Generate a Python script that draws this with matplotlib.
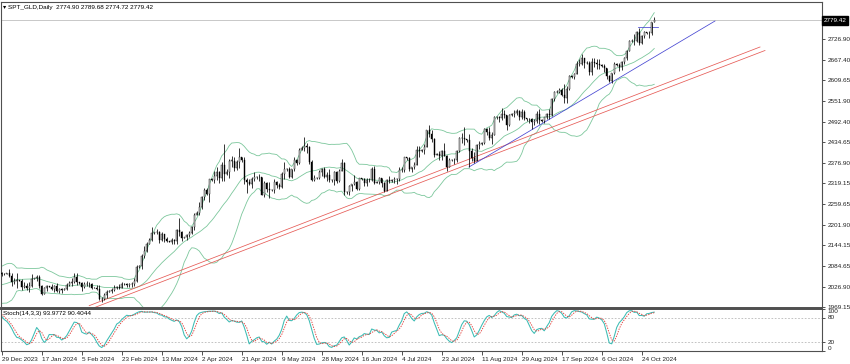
#!/usr/bin/env python3
"""
Daily gold chart (SPT_GLD) in MetaTrader style:
candles + Bollinger bands + trendlines, with a Stochastic(14,3,3) panel below
"""

import numpy as np
import matplotlib
matplotlib.use('Agg')
import matplotlib.pyplot as plt
from matplotlib.transforms import blended_transform_factory

# ---- data --------------------------------------------------------------
# 25 bars before 29 Dec 2023 only feed the indicators (they sit left of the window)
n_before = 25
first_open = 2041

closes = [
    2044, 2036, 2072, 2074, 2029, 2019, 2025, 2028, 2004,
    2003, 1982, 1979, 2027, 2035, 2019,
    2020, 2027, 2040, 2031, 2045, 2053,
    2053, 2067, 2077, 2065,
    # 29 Dec 2023 ->
    2062,
    2063, 2064, 2058, 2041, 2043, 2045,
    2044, 2027, 2030, 2024, 2029, 2049,
    2050, 2055, 2028, 2006, 2023, 2029,
    2027, 2021, 2029, 2014, 2020, 2018,
    2021, 2032, 2037, 2039, 2054, 2039,
    2037, 2025, 2035, 2034, 2034, 2024,
    2023, 2020, 1992, 1992, 2004, 2013,
    2015, 2017, 2024, 2025, 2024, 2035,
    2033, 2031, 2033, 2034, 2044, 2083,
    2085, 2114, 2128, 2148, 2159, 2179,
    2180, 2182, 2158, 2175, 2162, 2155,
    2154, 2160, 2157, 2186, 2181, 2165,
    2166, 2172, 2179, 2195, 2230,
    2234, 2251, 2280, 2300, 2290, 2330,
    2328, 2339, 2352, 2333, 2372, 2344,
    2352, 2383, 2383, 2361, 2379, 2392,
    2384, 2327, 2322, 2316, 2332, 2337,
    2336, 2336, 2286, 2320, 2303, 2301,
    2299, 2324, 2314, 2309, 2346, 2360,
    2358, 2336, 2358, 2386, 2376, 2414,
    2420, 2425, 2421, 2379, 2329, 2334,
    2333, 2351, 2360, 2338, 2343, 2327,
    2328, 2350, 2326, 2355, 2376, 2294,
    2295, 2311, 2316, 2324, 2303, 2333,
    2331, 2319, 2329, 2328, 2360, 2321,
    2322, 2334, 2319, 2298, 2327, 2326,
    2327, 2332, 2330, 2356, 2356, 2392,
    2390, 2359, 2364, 2372, 2414, 2411,
    2412, 2422, 2469, 2458, 2445, 2400,
    2402, 2396, 2409, 2397, 2364, 2386,
    2384, 2384, 2411, 2448, 2446, 2443,
    2440, 2410, 2390, 2382, 2428, 2431,
    2433, 2472, 2465, 2447, 2456, 2507,
    2506, 2504, 2514, 2512, 2485, 2512,
    2514, 2518, 2524, 2505, 2520, 2503,
    2500, 2500, 2493, 2495, 2516, 2497,
    2496, 2506, 2516, 2512, 2558, 2578,
    2577, 2582, 2569, 2559, 2586, 2622,
    2620, 2628, 2657, 2657, 2672, 2658,
    2660, 2634, 2663, 2659, 2656, 2653,
    2651, 2644, 2622, 2608, 2630, 2657,
    2654, 2649, 2662, 2674, 2693, 2721,
    2722, 2720, 2748, 2715, 2736, 2747,
    2745, 2743, 2774, 2779.42,
]

highs = [
    2052, 2049, 2075, 2090, 2135, 2037, 2040, 2034, 2036,
    2006, 2008, 1994, 2032, 2048, 2043,
    2023, 2029, 2047, 2047, 2048, 2071,
    2055, 2070, 2084, 2088,
    2068,
    2064, 2066, 2078, 2065, 2050, 2064,
    2046, 2048, 2040, 2036, 2040, 2062,
    2052, 2061, 2059, 2031, 2026, 2032,
    2030, 2033, 2031, 2038, 2023, 2023,
    2024, 2036, 2043, 2052, 2065, 2065,
    2040, 2040, 2039, 2043, 2041, 2036,
    2026, 2032, 2031, 1998, 2008, 2016,
    2016, 2022, 2031, 2030, 2035, 2041,
    2036, 2038, 2038, 2040, 2050, 2088,
    2087, 2120, 2141, 2153, 2165, 2195,
    2182, 2189, 2184, 2180, 2175, 2168,
    2157, 2164, 2162, 2189, 2222, 2185,
    2168, 2177, 2185, 2197, 2236,
    2240, 2266, 2283, 2305, 2305, 2331,
    2334, 2354, 2365, 2354, 2378, 2431,
    2360, 2387, 2396, 2392, 2385, 2418,
    2394, 2393, 2335, 2330, 2338, 2352,
    2340, 2346, 2335, 2326, 2323, 2323,
    2303, 2331, 2326, 2320, 2352, 2378,
    2362, 2366, 2360, 2393, 2387, 2418,
    2425, 2450, 2432, 2425, 2385, 2341,
    2336, 2356, 2362, 2364, 2351, 2360,
    2331, 2354, 2353, 2359, 2387, 2380,
    2298, 2315, 2318, 2342, 2326, 2335,
    2334, 2333, 2333, 2333, 2365, 2368,
    2325, 2336, 2335, 2323, 2330, 2340,
    2330, 2338, 2335, 2365, 2364, 2393,
    2393, 2392, 2366, 2378, 2424, 2424,
    2416, 2429, 2470, 2483, 2470, 2446,
    2406, 2411, 2412, 2432, 2400, 2390,
    2388, 2391, 2414, 2451, 2462, 2477,
    2444, 2459, 2420, 2408, 2431, 2439,
    2436, 2475, 2475, 2479, 2464, 2509,
    2510, 2510, 2531, 2525, 2513, 2516,
    2517, 2527, 2528, 2526, 2530, 2525,
    2504, 2503, 2504, 2501, 2523, 2529,
    2500, 2507, 2518, 2529, 2560, 2580,
    2582, 2589, 2588, 2600, 2594, 2625,
    2624, 2632, 2664, 2670, 2685, 2673,
    2664, 2666, 2673, 2672, 2669, 2671,
    2656, 2657, 2646, 2624, 2632, 2661,
    2659, 2660, 2666, 2677, 2697, 2723,
    2726, 2741, 2749, 2758, 2738, 2749,
    2748, 2749, 2775, 2789.68,
]

lows = [
    2036, 2030, 2031, 2070, 2015, 2010, 2016, 2017, 1994,
    2000, 1975, 1973, 1973, 2023, 2015,
    2017, 2015, 2026, 2029, 2029, 2040,
    2051, 2050, 2064, 2062,
    2058,
    2061, 2062, 2055, 2030, 2034, 2024,
    2042, 2017, 2022, 2018, 2013, 2026,
    2048, 2043, 2024, 2002, 2006, 2015,
    2026, 2017, 2011, 2012, 2009, 2010,
    2018, 2016, 2030, 2030, 2036, 2031,
    2035, 2015, 2023, 2030, 2027, 2020,
    2022, 2016, 1990, 1984, 1989, 1996,
    2012, 2010, 2015, 2021, 2020, 2024,
    2031, 2025, 2026, 2025, 2030, 2039,
    2080, 2076, 2109, 2126, 2146, 2156,
    2176, 2175, 2150, 2155, 2154, 2152,
    2152, 2146, 2146, 2146, 2170, 2157,
    2163, 2160, 2166, 2175, 2186,
    2228, 2230, 2245, 2272, 2285, 2267,
    2325, 2321, 2327, 2319, 2326, 2326,
    2342, 2333, 2366, 2355, 2357, 2361,
    2380, 2318, 2292, 2313, 2305, 2325,
    2332, 2325, 2285, 2281, 2295, 2278,
    2296, 2292, 2306, 2303, 2306, 2332,
    2355, 2333, 2335, 2354, 2370, 2373,
    2414, 2410, 2406, 2374, 2326, 2325,
    2330, 2332, 2340, 2335, 2326, 2322,
    2324, 2315, 2320, 2324, 2354, 2287,
    2290, 2286, 2298, 2313, 2300, 2301,
    2328, 2310, 2310, 2322, 2325, 2316,
    2319, 2316, 2309, 2293, 2300, 2319,
    2324, 2319, 2318, 2326, 2351, 2352,
    2386, 2353, 2352, 2360, 2370, 2392,
    2408, 2403, 2421, 2451, 2437, 2394,
    2398, 2385, 2385, 2395, 2353, 2364,
    2381, 2374, 2380, 2408, 2432, 2426,
    2436, 2364, 2383, 2377, 2381, 2415,
    2428, 2429, 2455, 2441, 2431, 2456,
    2502, 2493, 2497, 2503, 2471, 2481,
    2510, 2507, 2512, 2499, 2502, 2497,
    2496, 2490, 2472, 2485, 2489, 2486,
    2493, 2490, 2500, 2500, 2510, 2553,
    2574, 2574, 2565, 2547, 2547, 2584,
    2616, 2614, 2627, 2651, 2654, 2645,
    2656, 2624, 2624, 2647, 2641, 2643,
    2648, 2635, 2615, 2605, 2603, 2627,
    2650, 2637, 2640, 2655, 2667, 2692,
    2718, 2711, 2719, 2709, 2712, 2729,
    2741, 2730, 2738, 2774.72,
]

last_open = 2774.90

# date labels every 16 bars starting at 29 Dec 2023
date_labels = ['29 Dec 2023', '17 Jan 2024', '5 Feb 2024', '23 Feb 2024', '13 Mar 2024',
               '2 Apr 2024', '21 Apr 2024', '9 May 2024', '28 May 2024', '16 Jun 2024',
               '4 Jul 2024', '23 Jul 2024', '11 Aug 2024', '29 Aug 2024', '17 Sep 2024',
               '6 Oct 2024', '24 Oct 2024']
label_step = 16

price_ticks = [2726.90, 2667.40, 2609.65, 2551.90, 2492.40, 2434.65, 2376.90,
               2319.15, 2259.65, 2201.90, 2144.15, 2084.65, 2026.90, 1969.15]

# trendlines: (bar, price) end points
red_upper = [(35.0, 1973.0), (303.3, 2704.3)]
red_lower = [(37.0, 1967.3), (305.3, 2694.4)]
blue_trend = [(186.9, 2365.0), (285.3, 2777.8)]
blue_level = [(254.5, 2760.0), (262.5, 2760.0)]


def bollinger(c, period=20, dev=2.0):
    mid = np.full(len(c), np.nan)
    up = np.full(len(c), np.nan)
    lo = np.full(len(c), np.nan)
    for i in range(period - 1, len(c)):
        w = c[i - period + 1:i + 1]
        m, s = w.mean(), w.std()
        mid[i], up[i], lo[i] = m, m + dev * s, m - dev * s
    return mid, up, lo


def stochastic(h, l, c, k=14, d=3, slowing=3):
    n = len(c)
    ll = np.full(n, np.nan)
    hh = np.full(n, np.nan)
    for i in range(k - 1, n):
        ll[i] = l[i - k + 1:i + 1].min()
        hh[i] = h[i - k + 1:i + 1].max()
    main = np.full(n, np.nan)
    for i in range(k - 1 + slowing - 1, n):
        num = np.sum(c[i - slowing + 1:i + 1] - ll[i - slowing + 1:i + 1])
        den = np.sum(hh[i - slowing + 1:i + 1] - ll[i - slowing + 1:i + 1])
        main[i] = 100.0 * num / den if den > 0 else 100.0
    signal = np.full(n, np.nan)
    for i in range(k - 1 + slowing - 1 + d - 1, n):
        signal[i] = main[i - d + 1:i + 1].mean()
    return main, signal


def make_chart():
    c = np.array(closes, dtype=float)
    o = np.concatenate([[first_open], c[:-1]])
    o[-1] = last_open
    h = np.maximum(np.array(highs, dtype=float), np.maximum(o, c))
    l = np.minimum(np.array(lows, dtype=float), np.minimum(o, c))
    x = np.arange(len(c)) - n_before

    mid, up, lo = bollinger(c)
    k_line, d_line = stochastic(h, l, c)

    W, H = 850, 364
    fig = plt.figure(figsize=(W / 100, H / 100), dpi=100)
    plt.rcParams['font.family'] = ['Liberation Sans', 'DejaVu Sans']
    fs = 4.6

    ax = fig.add_axes([1 / W, 56 / H, 821 / W, 306 / H])
    ax_st = fig.add_axes([1 / W, 13 / H, 821 / W, 42 / H])
    xlim = (-0.28, 328.1)

    # --- price panel
    ax.axhline(c[-1], color='#c8c8c8', lw=0.7, zorder=1)
    ax.vlines(x, l, h, color='black', lw=0.55, zorder=3)
    body = np.maximum(np.abs(c - o), 0.8)
    colors = np.where(c >= o, 'white', 'black')
    ax.bar(x, body, bottom=np.minimum(o, c), width=0.55, color=colors,
           edgecolor='black', linewidth=0.3, zorder=4)

    bb_color = '#7cc79c'
    for band in (mid, up, lo):
        ax.plot(x, band, color=bb_color, lw=0.6, zorder=2)

    for line in (red_upper, red_lower):
        ax.plot([p[0] for p in line], [p[1] for p in line], color='#e65a55', lw=0.55, zorder=2)
    for line in (blue_trend, blue_level):
        ax.plot([p[0] for p in line], [p[1] for p in line], color='#4545d2', lw=0.55, zorder=2)

    ax.set_xlim(*xlim)
    ax.set_ylim(1966.4, 2831.5)
    ax.set_xticks([])
    ax.yaxis.tick_right()
    ax.set_yticks(price_ticks)
    ax.set_yticklabels([f'{v:.2f}' for v in price_ticks])
    ax.tick_params(axis='y', direction='out', length=2.5, width=0.6,
                   labelsize=fs, pad=1.5, colors='#333333', labelcolor='#222222')

    # current price tag on the axis
    tr = blended_transform_factory(ax.transAxes, ax.transData)
    ax.text(1.0015, c[-1], f'{c[-1]:.2f}', transform=tr, fontsize=fs, color='white',
            ha='left', va='center', zorder=10,
            bbox=dict(boxstyle='square,pad=0.25', facecolor='black', edgecolor='black'))

    # --- stochastic panel
    for lvl in (80, 20):
        ax_st.axhline(lvl, color='#b8b8b8', lw=0.6, ls=(0, (2, 2)))
    ax_st.plot(x, k_line, color='#3cbcb4', lw=0.75)
    ax_st.plot(x, d_line, color='#e2413c', lw=0.65, ls=(0, (1.5, 1.3)))
    ax_st.set_xlim(*xlim)
    ax_st.set_ylim(-1.2, 101.2)
    ax_st.yaxis.tick_right()
    ax_st.set_yticks([0, 20, 80, 100])
    ax_st.set_yticklabels(['0', '20', '80', '100'])
    ax_st.tick_params(axis='y', direction='out', length=2.5, width=0.6,
                      labelsize=fs, pad=1.5, colors='#333333', labelcolor='#222222')
    for lab, va in zip(ax_st.get_yticklabels(), ['bottom', 'center', 'center', 'top']):
        lab.set_verticalalignment(va)

    ax_st.set_xticks([i * label_step for i in range(len(date_labels))])
    ax_st.set_xticklabels(date_labels, ha='left')
    ax_st.tick_params(axis='x', direction='out', length=3, width=0.6,
                      labelsize=fs, pad=1, colors='#333333', labelcolor='#222222')

    # frames
    for a in (ax, ax_st):
        for s in a.spines.values():
            s.set_color('#505050')
            s.set_linewidth(0.8)
    ax.spines['bottom'].set_linewidth(1.4)
    ax_st.spines['top'].set_linewidth(1.4)

    # texts
    fig.text(3 / W, 1 - 7 / H, '\u25be SPT_GLD,Daily  2774.90 2789.68 2774.72 2779.42',
             fontsize=fs, va='center', ha='left')
    fig.text(3 / W, 1 - 314 / H, 'Stoch(14,3,3) 93.9772 90.4044',
             fontsize=fs, va='center', ha='left')

    fig.savefig('out.png', dpi=100, facecolor='white')
    print('saved out.png')


if __name__ == '__main__':
    make_chart()
